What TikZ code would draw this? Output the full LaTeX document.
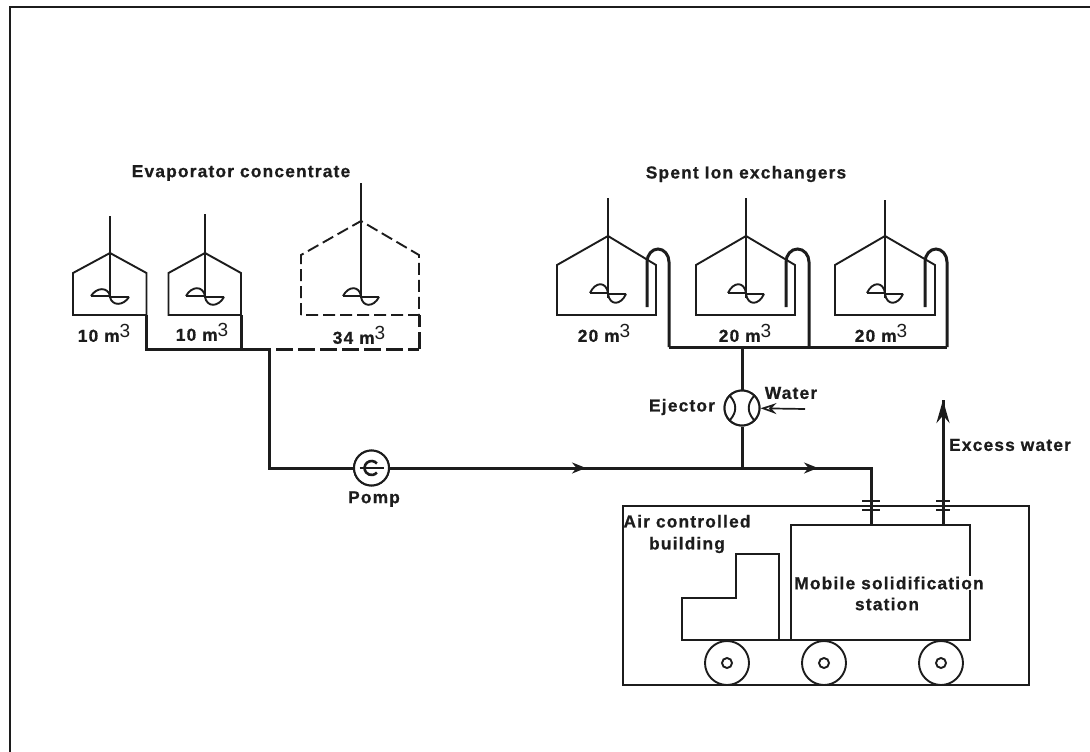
\documentclass[tikz,border=0pt]{standalone}
\usepackage{fontspec}
\setmainfont[LetterSpace=7,BoldFeatures={FakeBold=0.8}]{Liberation Sans}
\usetikzlibrary{arrows.meta,calc}
\definecolor{ink}{HTML}{1C1C1C}
\tikzset{
  thinline/.style={draw=ink,line width=1.9pt,line join=miter},
  hairline/.style={draw=ink,line width=1.7pt},
  pipe/.style={draw=ink,line width=3pt,line join=miter},
  dashpipe/.style={draw=ink,line width=3pt,dash pattern=on 17pt off 5pt},
  dashtank/.style={draw=ink,line width=1.9pt,dash pattern=on 12pt off 5pt},
  label/.style={font=\fontsize{17.3}{22}\selectfont\bfseries,text=ink,inner sep=0pt,align=center},
  disc/.style={circle,draw=ink,line width=2pt,fill=white,minimum size=35pt,inner sep=0pt},
  wheel/.style={circle,draw=ink,line width=1.9pt,fill=white,minimum size=44pt,inner sep=0pt},
  hub/.style={circle,draw=ink,line width=1.9pt,fill=white,minimum size=10pt,inner sep=0pt},
  tip/.style={-{Stealth[length=14pt,width=11pt]},draw=ink,line width=1.9pt},
}
\newcommand{\cubic}[1]{#1 m\raisebox{4.5pt}{\fontsize{19}{19}\selectfont\mdseries 3}}
% impeller: centre x, flat y, half width, lobe height
\newcommand{\impeller}[4]{%
  \draw[thinline] (#1-#3,#2) -- (#1,#2) .. controls (#1-#3*0.1,#2-#4*1.3) and (#1-#3*0.7,#2-#4*1.3) .. (#1-#3,#2);
  \draw[thinline] (#1+#3,#2+1) -- (#1,#2+1) .. controls (#1+#3*0.1,#2+1+#4*1.3) and (#1+#3*0.7,#2+1+#4*1.3) .. (#1+#3,#2+1);
}
% tank: left, right, apex x, apex y, shoulder y, bottom y, shaft top y, style
\newcommand{\tank}[8]{%
  \draw[#8] (#1,#6) -- (#1,#5) -- (#3,#4) -- (#2,#5) -- (#2,#6) -- cycle;
  \draw[hairline] (#3,#7) -- (#3,#6-17);
}
% U-tube: inner x, outer x, pipe y
\newcommand{\utube}[3]{%
  \draw[pipe] (#1,307) -- (#1,262) arc[start angle=180,end angle=360,x radius={(#2-#1)/2},y radius=13] -- (#2,#3);
}
\begin{document}
\begin{tikzpicture}[x=1pt,y=-1pt]
\useasboundingbox (0,0) rectangle (1090,752);
% page frame
\draw[draw=ink,line width=2pt] (10,752) -- (10,7) -- (1090,7);

% evaporator tanks
\tank{73}{146.5}{110}{253}{273}{315}{216}{thinline}
\impeller{110}{296}{19}{7}
\tank{168.5}{241}{205}{253}{273}{315}{214}{thinline}
\impeller{205}{296}{19}{8}
\tank{301}{419}{361}{221}{255}{315}{183}{dashtank}
\impeller{361}{296}{18}{8}

% ion exchanger tanks
\tank{557}{656}{608}{236}{265}{315}{198}{thinline}
\impeller{608}{293}{18}{9}
\tank{696}{795}{746}{236}{265}{315}{198}{thinline}
\impeller{746}{293}{18}{9}
\tank{835}{935}{885}{236}{265}{315}{200}{thinline}
\impeller{885}{293}{18}{9}
\utube{647}{669}{347}
\utube{786}{809}{347}
\utube{925}{947}{347}

% named junctions
\coordinate (t1) at (146,315);
\coordinate (t2) at (241,315);
\coordinate (t3) at (419,315);
\coordinate (evapL) at (146,349);
\coordinate (evapM) at (241,349);
\coordinate (evapJ) at (269,349);
\coordinate (evapR) at (419,349);
\coordinate (corner) at (269,468);
\coordinate (ionL) at (669,347);
\coordinate (ionR) at (947,347);
\coordinate (ionJ) at (742,347);
\coordinate (merge) at (742,468);
\coordinate (turn) at (871,468);
\coordinate (arrA) at (586,468);
\coordinate (arrB) at (818,468);
\coordinate (waterIn) at (805,409);
\coordinate (excessTop) at (943,400);

% station box and cab
\draw[thinline] (623,506) rectangle (1029,685);
\node[draw=ink,line width=1.9pt,minimum width=179pt,minimum height=115pt,inner sep=0pt] (station) at (880.5,582.5) {};
\draw[thinline] (682,640) -- (682,598) -- (736,598) -- (736,554) -- (779,554) -- (779,640) -- cycle;
\draw[thinline] (779,640) -- (791,640);
\coordinate (inlet) at (871,525);
\coordinate (outlet) at (943,525);

% pump and ejector
\node[disc] (pump) at (371.5,468) {};
\node[disc] (ejector) at (742,408) {};

% pipes
\draw[pipe,line cap=square] (t1) -- (evapL) -- (evapJ) -- (corner) -- (pump);
\draw[pipe] (t2) -- (evapM);
\draw[dashpipe] (evapJ) ++(7,0) -- (evapR);
\draw[dashpipe] (evapR) -- (t3);
\draw[pipe] (pump) -- (turn) -- (inlet);
\draw[pipe] (ionL) -- (ionR);
\draw[pipe] (ionJ) -- (ejector);
\draw[pipe] (ejector) -- (merge);
\draw[pipe] (outlet) -- (excessTop);
\node[disc] at (pump) {};
\node[disc] at (ejector) {};

% arrowheads
\draw[tip] (arrA) ++(-12,0) -- (arrA);
\draw[tip] (arrB) ++(-12,0) -- (arrB);
\draw[tip,line width=3pt,-{Stealth[length=23pt,width=13pt]}] (outlet) -- (excessTop);
\draw[hairline,-{Stealth[length=16pt,width=11pt,open]}] (waterIn) -- (ejector);

% pump symbol
\draw[hairline] ($(pump)+(-12,0)$) -- ($(pump)+(12,0)$);
\draw[draw=ink,line width=2.6pt] ($(pump)+(5.4,-4.5)$) arc[start angle=-40,end angle=-320,radius=7];
% ejector symbol
\draw[thinline] ($(ejector)+(-12,-12)$) .. controls ($(ejector)+(-5,-4)$) and ($(ejector)+(-5,4)$) .. ($(ejector)+(-12,12)$);
\draw[thinline] ($(ejector)+(12,-12)$) .. controls ($(ejector)+(5,-4)$) and ($(ejector)+(5,4)$) .. ($(ejector)+(12,12)$);

% flanges
\foreach \cx/\hw in {871/9,943/7}{
  \draw[hairline] (\cx-\hw,501) -- (\cx+\hw,501);
  \draw[hairline] (\cx-\hw,510) -- (\cx+\hw,510);
}

% wheels
\node[wheel] (w1) at (727,663) {};
\node[hub] (h1) at (w1) {};
\node[wheel] (w2) at (824,663) {};
\node[hub] (h2) at (w2) {};
\node[wheel] (w3) at (941,663) {};
\node[hub] (h3) at (w3) {};

% labels
\node[label] (l1) at (241,173) {Evaporator concentrate};
\node[label] (l2) at (746,174) {Spent Ion exchangers};
\node[label] (v1) at (104,333) {\cubic{10}};
\node[label] (v2) at (202,332) {\cubic{10}};
\node[label] (v3) at (359,335) {\cubic{34}};
\node[label] (v4) at (604,333) {\cubic{20}};
\node[label] (v5) at (745,333) {\cubic{20}};
\node[label] (v6) at (881,333) {\cubic{20}};
\node[label] (l3) at (682,407) {Ejector};
\node[label] (l4) at (791,393) {Water};
\node[label] (l5) at (1010,445) {Excess water};
\node[label] (l6) at (374,499) {Pomp};
\node[label] (l7) at (687,534) {Air controlled\\building};
\node[label,fill=white,inner sep=1pt] (l8) at (889,583) {Mobile solidification};
\node[label] (l9) at (887,604) {station};
\end{tikzpicture}
\end{document}
